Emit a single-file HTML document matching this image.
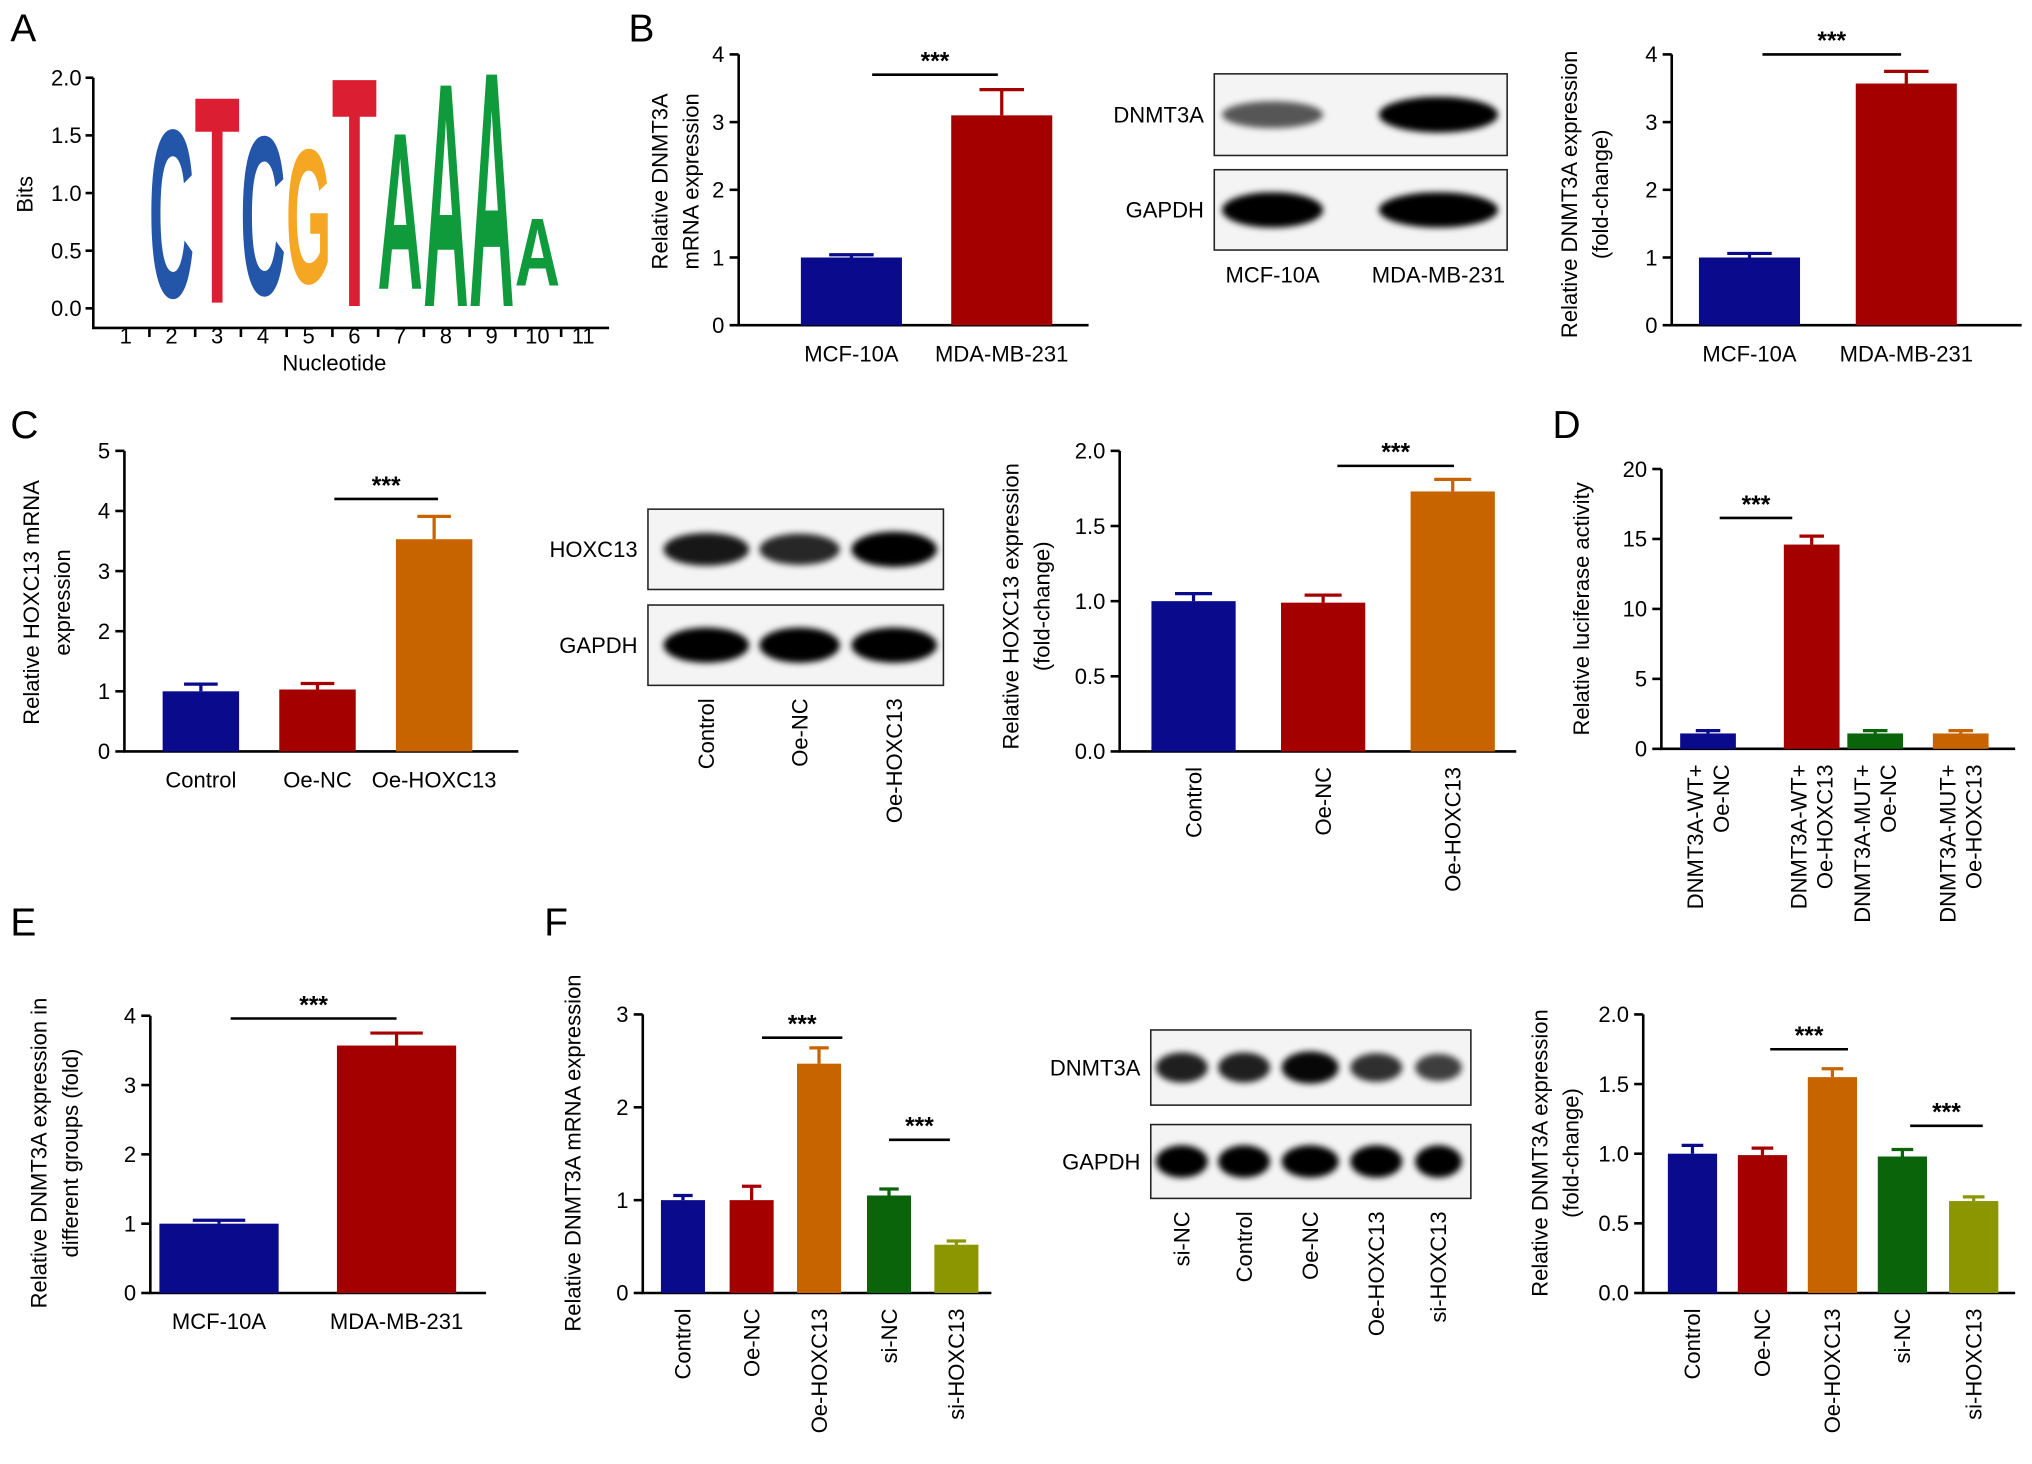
<!DOCTYPE html>
<html><head><meta charset="utf-8"><style>
html,body{margin:0;padding:0;background:#fff;}
svg{display:block;font-family:"Liberation Sans",Arial,sans-serif;}
</style></head><body>
<svg id="fig" width="2032" height="1464" viewBox="0 0 1568 1130" preserveAspectRatio="none" xmlns="http://www.w3.org/2000/svg">
<defs>
<filter id="blur" x="-20%" y="-50%" width="140%" height="200%"><feGaussianBlur stdDeviation="2.5"/></filter>
</defs>
<g font-size="30" fill="#000">
<text x="8" y="32">A</text>
<text x="485" y="32">B</text>
<text x="8" y="338">C</text>
<text x="1198" y="338">D</text>
<text x="8" y="722">E</text>
<text x="420" y="722">F</text>
</g>
<g id="root"></g>
</svg>
<script>
// ---------- data ----------
const logoPositions = ["1","2","3","4","5","6","7","8","9","10","11"];
const logoLetters = ["", "C","T","C","G","T","A","A","A","A",""];
const logoHeights = [0, 1.5, 1.85, 1.42, 1.2, 2.05, 1.4, 2.0, 2.1, 0.6, 0];
const logoBase = [0, 0.1, 0.05, 0.12, 0.22, 0.02, 0.17, 0.02, 0.02, 0.2, 0];
const logoTicks = [0.0, 0.5, 1.0, 1.5, 2.0];

const b1Cats = ["MCF-10A","MDA-MB-231"], b1Vals = [1.0, 3.1], b1Errs = [0.04, 0.38], b1Ticks = [0,1,2,3,4];
const b2Cats = ["MCF-10A","MDA-MB-231"], b2Vals = [1.0, 3.57], b2Errs = [0.06, 0.18], b2Ticks = [0,1,2,3,4];
const c1Cats = ["Control","Oe-NC","Oe-HOXC13"], c1Vals = [1.0, 1.03, 3.53], c1Errs = [0.12, 0.1, 0.38], c1Ticks = [0,1,2,3,4,5];
const c2Cats = ["Control","Oe-NC","Oe-HOXC13"], c2Vals = [1.0, 0.99, 1.73], c2Errs = [0.05, 0.05, 0.08], c2Ticks = [0.0,0.5,1.0,1.5,2.0];
const dCats = [["DNMT3A-WT+","Oe-NC"],["DNMT3A-WT+","Oe-HOXC13"],["DNMT3A-MUT+","Oe-NC"],["DNMT3A-MUT+","Oe-HOXC13"]], dVals = [1.1, 14.6, 1.1, 1.1], dErrs = [0.2, 0.6, 0.2, 0.2], dTicks = [0,5,10,15,20];
const eCats = ["MCF-10A","MDA-MB-231"], eVals = [1.0, 3.57], eErrs = [0.05, 0.18], eTicks = [0,1,2,3,4];
const f1Cats = ["Control","Oe-NC","Oe-HOXC13","si-NC","si-HOXC13"], f1Vals = [1.0, 1.0, 2.47, 1.05, 0.52], f1Errs = [0.05, 0.15, 0.17, 0.07, 0.04], f1Ticks = [0,1,2,3];
const f2Cats = ["Control","Oe-NC","Oe-HOXC13","si-NC","si-HOXC13"], f2Vals = [1.0, 0.99, 1.55, 0.98, 0.66], f2Errs = [0.06, 0.05, 0.06, 0.05, 0.03], f2Ticks = [0.0,0.5,1.0,1.5,2.0];

const NS = "http://www.w3.org/2000/svg";
const root = document.getElementById('root');
function mk(tag, attrs, parent, txt){
  const e = document.createElementNS(NS, tag);
  for (const k in attrs) e.setAttribute(k, attrs[k]);
  if (txt !== undefined) e.textContent = txt;
  (parent || root).appendChild(e);
  return e;
}
const NAVY="#0a0a8c", RED="#a50000", ORANGE="#c86400", GREEN="#0a640a", OLIVE="#8c9600";

function barChart(o){
  const g = mk('g', {});
  
  
  const tmax = o.ticks[o.ticks.length-1];
  const yS = v => o.y0 - (v / tmax) * (o.y0 - o.y1);
  const ax = mk('path', {d:`M${o.ax} ${o.y1}V${o.y0}H${o.xEnd}`, stroke:'#000','stroke-width':2, fill:'none'}, g);
  
  
  o.ticks.forEach(t => {
    const y = yS(t);
    mk('line', {x1:o.ax-7, x2:o.ax, y1:y, y2:y, stroke:'#000','stroke-width':2}, g);
    const tl = mk('text', {x:o.ax-11, y:y+6, 'font-size':17, 'text-anchor':'end'}, g, o.fmt ? t.toFixed(1) : String(t));
    
    
  });
  o.vals.forEach((v, i) => {
    const cx = o.cx[i], w = o.bw;
    const top = yS(v), et = yS(v + o.errs[i]);
    mk('line', {x1:cx, x2:cx, y1:top, y2:et, stroke:o.colors[i], 'stroke-width':2.5}, g);
    mk('line', {x1:cx-w*0.22, x2:cx+w*0.22, y1:et, y2:et, stroke:o.colors[i], 'stroke-width':2.5}, g);
    const r = mk('rect', {x:cx-w/2, y:top, width:w, height:o.y0-top, fill:o.colors[i]}, g);
    
    
    if (o.rot) {
      const lines = Array.isArray(o.cats[i]) ? o.cats[i] : [o.cats[i]];
      lines.forEach((s, k) => {
        const off = (k - (lines.length-1)/2) * 20;
        const t = mk('text', {x:0, y:0, 'font-size':17, 'text-anchor':'end', transform:`translate(${cx+off+6},${o.y0+12}) rotate(-90)`}, g, s);
        
        
      });
    } else {
      const t = mk('text', {x:cx, y:o.y0+28, 'font-size':17, 'text-anchor':'middle'}, g, o.cats[i]);
      
      
    }
  });
  o.ylab.forEach((s, k) => {
    const t = mk('text', {x:0, y:0, 'font-size':17, 'text-anchor':'middle', transform:`translate(${o.labX + k*24},${o.labY}) rotate(-90)`}, g, s);
    
    
  });
  (o.sig || []).forEach(s => {
    const y = yS(s[2]);
    mk('line', {x1:s[0], x2:s[1], y1:y, y2:y, stroke:'#000', 'stroke-width':2}, g);
    const t = mk('text', {x:(s[0]+s[1])/2, y:y-4, 'font-size':19, 'text-anchor':'middle', 'font-weight':'bold'}, g, '***');
    
    
  });
}

// Panel A logo
(function(){
  const g = mk('g', {});
  
  
  const ax = 72, y0 = 238, y1 = 60;
  const yS = v => y0 - v / 2 * (y0 - y1);
  mk('path', {d:`M${ax} ${y1}V${yS(-0.17)}H470`, stroke:'#000','stroke-width':2, fill:'none'}, g);
  logoTicks.forEach(t => {
    mk('line', {x1:ax-6, x2:ax, y1:yS(t), y2:yS(t), stroke:'#000','stroke-width':2}, g);
    const tl = mk('text', {x:ax-9, y:yS(t)+6, 'font-size':17, 'text-anchor':'end'}, g, t.toFixed(1));
    
    
  });
  const colors = {A:'#0f9a3c', C:'#2356a8', G:'#f5a623', T:'#dc1e32'};
  logoPositions.forEach((p, i) => {
    const cx = 97 + i * 35.3;
    if (i > 0) mk('line', {x1:cx-17, x2:cx-17, y1:yS(-0.17), y2:yS(-0.17)+7, stroke:'#000','stroke-width':2}, g);
    const tl = mk('text', {x:cx, y:265, 'font-size':17, 'text-anchor':'middle'}, g, p);
    
    
    const L = logoLetters[i];
    if (L) {
      const hpx = (yS(0) - yS(logoHeights[i]));
      const base = yS(logoBase[i]);
      const w = 35, sx = w / 72, sy = hpx / 72;
      const t = mk('text', {x:0, y:0, 'font-size':100, 'font-weight':'bold', fill:colors[L], textLength:72, lengthAdjust:'spacingAndGlyphs', transform:`translate(${cx-w/2},${base}) scale(${sx},${sy})`}, g, L);
      
      
    }
  });
  const yt = mk('text', {x:0, y:0, 'font-size':17, 'text-anchor':'middle', transform:'translate(25,150) rotate(-90)'}, g, 'Bits');
  
  
  const xt = mk('text', {x:258, y:286, 'font-size':17, 'text-anchor':'middle'}, g, 'Nucleotide');
  
  
})();

barChart({name:'chart-b-mrna', ax:570, y0:251, y1:42, xEnd:840, cats:b1Cats, vals:b1Vals, errs:b1Errs, ticks:b1Ticks, cx:[657,773], bw:78, colors:[NAVY,RED], ylab:['Relative DNMT3A','mRNA expression'], labX:515, labY:140, sig:[[673,770,3.7]]});
barChart({name:'chart-b-protein', ax:1290, y0:251, y1:42, xEnd:1560, cats:b2Cats, vals:b2Vals, errs:b2Errs, ticks:b2Ticks, cx:[1350,1471], bw:78, colors:[NAVY,RED], ylab:['Relative DNMT3A expression','(fold-change)'], labX:1217, labY:150, sig:[[1360,1467,4.0]]});
barChart({name:'chart-c-mrna', ax:96, y0:580, y1:348, xEnd:400, cats:c1Cats, vals:c1Vals, errs:c1Errs, ticks:c1Ticks, cx:[155,245,335], bw:59, colors:[NAVY,RED,ORANGE], ylab:['Relative HOXC13 mRNA','expression'], labX:30, labY:465, sig:[[258,338,4.2]]});
barChart({name:'chart-c-protein', ax:864, y0:580, y1:348, xEnd:1170, cats:c2Cats, vals:c2Vals, errs:c2Errs, ticks:c2Ticks, fmt:true, cx:[921,1021,1121], bw:65, colors:[NAVY,RED,ORANGE], rot:true, ylab:['Relative HOXC13 expression','(fold-change)'], labX:786, labY:468, sig:[[1032,1122,1.9]]});
barChart({name:'chart-d-luciferase', ax:1282, y0:578, y1:362, xEnd:1555, cats:dCats, vals:dVals, errs:dErrs, ticks:dTicks, cx:[1318,1398,1447,1513], bw:43, colors:[NAVY,RED,GREEN,ORANGE], rot:true, ylab:['Relative luciferase activity'], labX:1226, labY:470, sig:[[1327,1383,16.5]]});
barChart({name:'chart-e', ax:116, y0:998, y1:784, xEnd:375, cats:eCats, vals:eVals, errs:eErrs, ticks:eTicks, cx:[169,306], bw:92, colors:[NAVY,RED], ylab:['Relative DNMT3A expression in','different groups (fold)'], labX:36, labY:890, sig:[[178,306,3.96]]});
barChart({name:'chart-f-mrna', ax:496, y0:998, y1:783, xEnd:765, cats:f1Cats, vals:f1Vals, errs:f1Errs, ticks:f1Ticks, cx:[527,580,632,686,738], bw:34, colors:[NAVY,RED,ORANGE,GREEN,OLIVE], rot:true, ylab:['Relative DNMT3A mRNA expression'], labX:448, labY:890, sig:[[588,650,2.75],[686,733,1.65]]});
barChart({name:'chart-f-protein', ax:1268, y0:998, y1:783, xEnd:1555, cats:f2Cats, vals:f2Vals, errs:f2Errs, ticks:f2Ticks, fmt:true, cx:[1306,1360,1414,1468,1523], bw:38, colors:[NAVY,RED,ORANGE,GREEN,OLIVE], rot:true, ylab:['Relative DNMT3A expression','(fold-change)'], labX:1194, labY:890, sig:[[1366,1426,1.75],[1474,1530,1.2]]});

// Western blots
const blotB = {x:937, w:226, rows:[["DNMT3A",57,63,[0.45,1.0]],["GAPDH",131,62,[1.0,1.0]]], cx:[982,1110], bw:[78,92], labels:["MCF-10A","MDA-MB-231"], rot:false};
const blotC = {x:500, w:228, rows:[["HOXC13",393,62,[0.85,0.75,1.0]],["GAPDH",467,62,[1.0,1.0,1.0]]], cx:[545,617,690], bw:[66,62,66], labels:["Control","Oe-NC","Oe-HOXC13"], rot:true, lx:[545,617,690]};
const blotF = {x:888, w:247, rows:[["DNMT3A",795,58,[0.8,0.8,0.95,0.7,0.6]],["GAPDH",868,57,[1.0,1.0,1.0,1.0,1.0]]], cx:[912,960,1011,1062,1110], bw:[40,40,44,40,36], labels:["si-NC","Control","Oe-NC","Oe-HOXC13","si-HOXC13"], rot:true, lx:[912,960,1011,1062,1110]};
function blot(b, name){
  const g = mk('g', {});
  
  
  b.rows.forEach(r => {
    mk('rect', {x:b.x, y:r[1], width:b.w, height:r[2], fill:'#f4f4f4', stroke:'#222', 'stroke-width':1.2}, g);
    const t = mk('text', {x:b.x-8, y:r[1]+r[2]/2+6, 'font-size':17, 'text-anchor':'end'}, g, r[0]);
    
    
    r[3].forEach((a, i) => {
      const e = mk('ellipse', {cx:b.cx[i], cy:r[1]+r[2]/2, rx:b.bw[i]/2, ry:r[2]*0.12 + a*r[2]*0.1, fill:'#000', opacity:0.35 + a*0.65, filter:'url(#blur)'}, g);
      
      
    });
  });
  const bottom = b.rows[1][1] + b.rows[1][2];
  b.labels.forEach((s, i) => {
    let t;
    if (b.rot) t = mk('text', {x:0, y:0, 'font-size':17, 'text-anchor':'end', transform:`translate(${b.lx[i]+6},${bottom+10}) rotate(-90)`}, g, s);
    else t = mk('text', {x:b.cx[i], y:bottom+25, 'font-size':17, 'text-anchor':'middle'}, g, s);
    
    
  });
}
blot(blotB, 'western-blot-b');
blot(blotC, 'western-blot-c');
blot(blotF, 'western-blot-f');
</script>
</body></html>
